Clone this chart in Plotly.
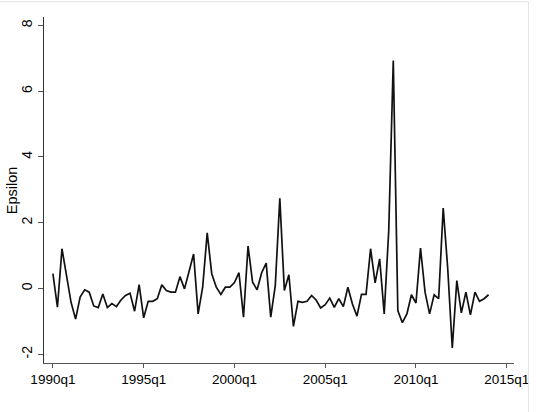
import plotly.graph_objects as go

# ---- data -------------------------------------------------------------
start_year = 1990
n_quarters = 97  # 1990q1 .. 2014q1
periods = [f"{start_year + i // 4}q{i % 4 + 1}" for i in range(n_quarters)]
time_pos = [start_year + i / 4 for i in range(n_quarters)]

epsilon = [
    0.45, -0.57, 1.21, 0.40, -0.42, -0.93, -0.26, -0.04, -0.11, -0.53,
    -0.58, -0.17, -0.58, -0.46, -0.55, -0.35, -0.21, -0.14, -0.69, 0.12,
    -0.89, -0.39, -0.39, -0.31, 0.11, -0.06, -0.11, -0.11, 0.36, -0.01,
    0.50, 1.05, -0.77, 0.04, 1.69, 0.45, 0.04, -0.18, 0.04, 0.04,
    0.18, 0.48, -0.87, 1.29, 0.19, -0.04, 0.48, 0.77, -0.87, 0.09,
    2.74, -0.06, 0.42, -1.15, -0.39, -0.42, -0.39, -0.21, -0.35, -0.59,
    -0.49, -0.29, -0.57, -0.31, -0.55, 0.04, -0.47, -0.84, -0.18, -0.18,
    1.21, 0.17, 0.90, -0.77, 1.76, 6.93, -0.67, -1.04, -0.77, -0.19,
    -0.44, 1.23, -0.11, -0.77, -0.19, -0.31, 2.45, 0.60, -1.81, 0.24,
    -0.74, -0.11, -0.80, -0.11, -0.39, -0.31, -0.19,
]

x_tick_vals = [1990, 1995, 2000, 2005, 2010, 2015]
x_tick_text = ["1990q1", "1995q1", "2000q1", "2005q1", "2010q1", "2015q1"]
y_tick_vals = [-2, 0, 2, 4, 6, 8]
y_tick_text = ["-2", "0", "2", "4", "6", "8"]

# ---- figure -----------------------------------------------------------
fig = go.Figure()
fig.add_trace(go.Scatter(
    x=time_pos, y=epsilon, mode="lines",
    line=dict(color="#111111", width=1.7),
    text=periods, hoverinfo="text+y",
))

font_family = "Liberation Sans, Arial, sans-serif"

fig.update_layout(
    width=541, height=412,
    margin=dict(l=44, r=18, t=17, b=49),
    paper_bgcolor="white", plot_bgcolor="white",
    showlegend=False,
    font=dict(family=font_family, size=13.5, color="black"),
    xaxis=dict(
        range=[1989.51, 2015.40],
        tickmode="array", tickvals=x_tick_vals, ticktext=x_tick_text,
        showgrid=False, zeroline=False,
        showline=True, linecolor="#555555", linewidth=1,
        ticks="outside", ticklen=4, tickcolor="#555555", tickwidth=1,
        tickfont=dict(family=font_family, size=13.5, color="black"),
    ),
    yaxis=dict(
        range=[-2.265, 8.256],
        tickmode="array", tickvals=y_tick_vals, ticktext=y_tick_text,
        tickangle=-90,
        showgrid=False, zeroline=False,
        showline=True, linecolor="#333333", linewidth=1,
        ticks="outside", ticklen=5, tickcolor="#555555", tickwidth=1,
        tickfont=dict(family=font_family, size=14, color="black"),
    ),
    annotations=[dict(
        text="Epsilon", xref="paper", yref="paper",
        x=(12 - 44.3) / 478.4, y=0.5, xanchor="center", yanchor="middle",
        textangle=-90, showarrow=False,
        font=dict(family=font_family, size=14.5, color="black"),
    )],
    shapes=[
        dict(type="line", xref="paper", yref="paper",
             x0=-0.1, x1=1.031, y0=1.044, y1=1.044,
             line=dict(color="#e4e4e4", width=1)),
        dict(type="line", xref="paper", yref="paper",
             x0=1.031, x1=1.031, y0=1.044, y1=-0.15,
             line=dict(color="#e4e4e4", width=1)),
    ],
)

fig.write_html("out.html")
